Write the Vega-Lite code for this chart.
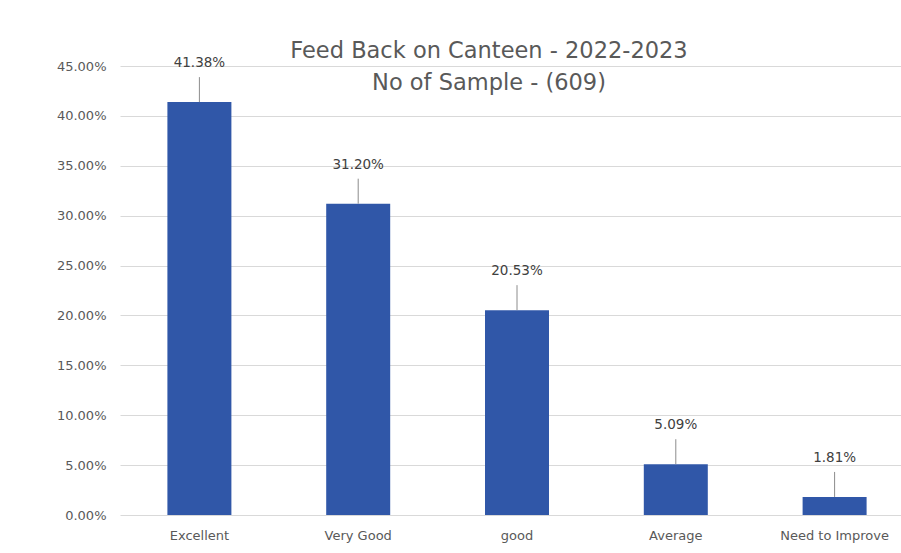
{
  "$schema": "https://vega.github.io/schema/vega-lite/v6.json",
  "autosize": "none",
  "width": 794,
  "height": 449,
  "padding": {"left": 120, "top": 66, "right": 0, "bottom": 38},
  "background": "white",
  "title": {
    "text": ["Feed Back on Canteen - 2022-2023", "No of Sample - (609)"],
    "anchor": "middle",
    "frame": "group",
    "font": "DejaVu Sans",
    "fontSize": 22.5,
    "fontWeight": "normal",
    "color": "#595959",
    "lineHeight": 32,
    "baseline": "top",
    "dx": -28,
    "dy": 38,
    "offset": 0
  },
  "data": {
    "values": [
      {"category": "Excellent", "value": 0.4138},
      {"category": "Very Good", "value": 0.3120},
      {"category": "good", "value": 0.2053},
      {"category": "Average", "value": 0.0509},
      {"category": "Need to Improve", "value": 0.0181}
    ]
  },
  "encoding": {
    "x": {
      "field": "category",
      "type": "nominal",
      "sort": null,
      "scale": {"paddingInner": 0.597, "paddingOuter": 0.2985},
      "axis": {
        "title": null,
        "labelAngle": 0,
        "labelFont": "DejaVu Sans",
        "labelFontSize": 13,
        "labelColor": "#595959",
        "labelPadding": 14,
        "ticks": false,
        "domain": false
      }
    },
    "y": {
      "field": "value",
      "type": "quantitative",
      "scale": {"domain": [0, 0.45], "nice": false},
      "axis": {
        "title": null,
        "format": ".2%",
        "values": [0, 0.05, 0.1, 0.15, 0.2, 0.25, 0.3, 0.35, 0.4, 0.45],
        "labelFont": "DejaVu Sans",
        "labelFontSize": 13,
        "labelColor": "#595959",
        "labelPadding": 14,
        "ticks": false,
        "domain": false,
        "grid": true,
        "gridColor": "#d9d9d9",
        "gridWidth": 1
      }
    }
  },
  "layer": [
    {"mark": {"type": "bar", "color": "#3057A8"}},
    {
      "mark": {"type": "rule", "color": "#8c8c8c", "strokeWidth": 1, "y2Offset": -25},
      "encoding": {"y2": {"field": "value"}}
    },
    {
      "mark": {"type": "text", "dy": -39, "font": "DejaVu Sans", "fontSize": 13.5, "color": "#404040", "baseline": "middle"},
      "encoding": {"text": {"field": "value", "type": "quantitative", "format": ".2%"}}
    }
  ],
  "config": {"view": {"stroke": null}}
}
